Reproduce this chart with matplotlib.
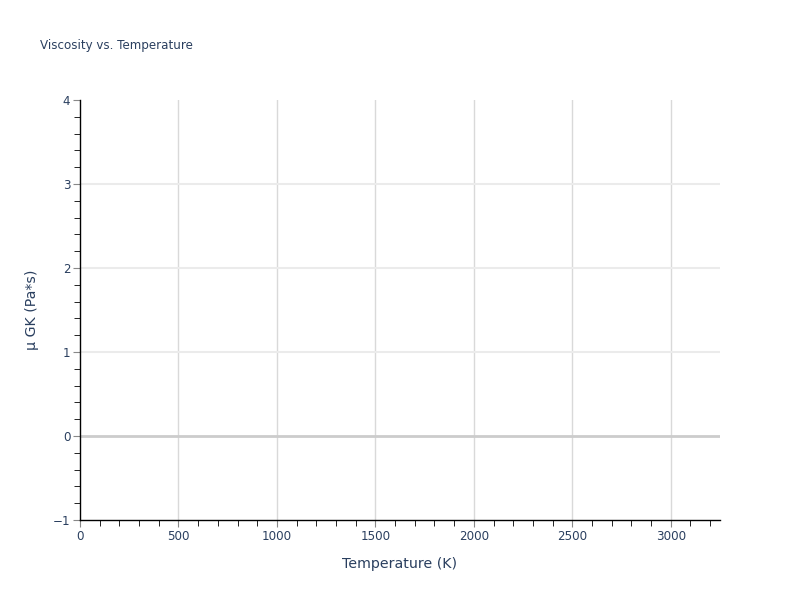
import matplotlib
matplotlib.use("Agg")
import matplotlib.pyplot as plt
from matplotlib.ticker import MultipleLocator

# No data points appear in the reference chart
temperature = []
viscosity = []

x_ticks = [0, 500, 1000, 1500, 2000, 2500, 3000]
y_ticks = [-1, 0, 1, 2, 3, 4]

text_color = "#2a3f5f"
plt.rcParams["font.family"] = ["DejaVu Sans"]

fig = plt.figure(figsize=(8, 6), dpi=100)
ax = fig.add_axes([0.1, 0.1333, 0.8, 0.7])

ax.plot(temperature, viscosity)

ax.set_xlim(0, 3250)
ax.set_ylim(-1, 4)
ax.set_xticks(x_ticks)
ax.set_yticks(y_ticks)
ax.set_yticklabels(["\u22121", "0", "1", "2", "3", "4"])
ax.xaxis.set_minor_locator(MultipleLocator(100))
ax.yaxis.set_minor_locator(MultipleLocator(0.2))

# grid lines
for x in x_ticks[1:]:
    ax.axvline(x, color="#d9d9d9", lw=1, zorder=0)
for y in [1, 2, 3]:
    ax.axhline(y, color="#ebebeb", lw=1.5, zorder=0)
ax.axhline(0, color="#cccccc", lw=2, zorder=1)

for side in ["top", "right"]:
    ax.spines[side].set_visible(False)
for side in ["left", "bottom"]:
    ax.spines[side].set_color("black")
    ax.spines[side].set_linewidth(1)

ax.tick_params(which="major", length=5, color="#888888", labelsize=8.6,
               labelcolor=text_color, pad=2)
ax.tick_params(which="minor", length=4, color="black")

ax.set_xlabel("Temperature (K)", fontsize=10.2, color=text_color, labelpad=10)
ax.set_ylabel("\u03bc GK (Pa*s)", fontsize=10.2, color=text_color, labelpad=10)
fig.text(0.05, 0.925, "Viscosity vs. Temperature", fontsize=8.6,
         color=text_color, va="center")

fig.savefig("out.png", dpi=100)
